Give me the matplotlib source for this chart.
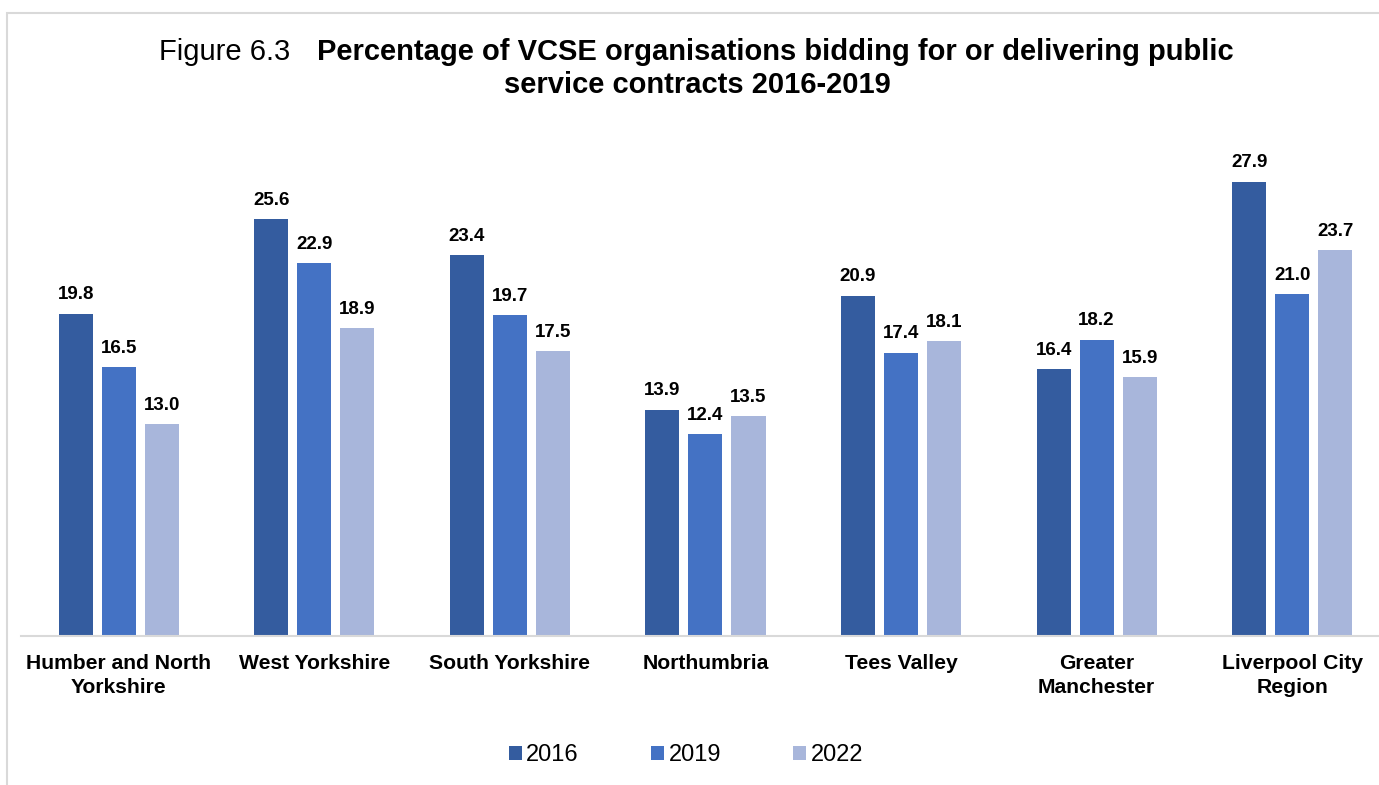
import numpy as np
import matplotlib
matplotlib.use("Agg")
import matplotlib.pyplot as plt
from matplotlib.patches import Rectangle

plt.rcParams['font.family'] = ['Liberation Sans', 'DejaVu Sans']

# Chart data
regions = ['Humber and North\nYorkshire', 'West Yorkshire', 'South Yorkshire',
           'Northumbria', 'Tees Valley', 'Greater\nManchester',
           'Liverpool City\nRegion']
years = ['2016', '2019', '2022']
values_2016 = [19.8, 25.6, 23.4, 13.9, 20.9, 16.4, 27.9]
values_2019 = [16.5, 22.9, 19.7, 12.4, 17.4, 18.2, 21.0]
values_2022 = [13.0, 18.9, 17.5, 13.5, 18.1, 15.9, 23.7]
colors = ['#345C9F', '#4472C4', '#A8B6DB']

W, H = 1379, 785
fig = plt.figure(figsize=(W / 100, H / 100), dpi=100)

# light grey chart border (cropped on right and bottom)
fig.patches.append(Rectangle((7 / W, -0.05), 1.1, 1 - 13 / H + 0.05,
                             transform=fig.transFigure, fill=False,
                             edgecolor='#D9D9D9', linewidth=1.5))

ax = fig.add_axes([21 / W, 149 / H, 1 - 21 / W, 488.4 / H])

x = np.arange(len(regions))
width = 0.174
offset = 0.22
series = [values_2016, values_2019, values_2022]
for i, (vals, yr, col) in enumerate(zip(series, years, colors)):
    bars = ax.bar(x + (i - 1) * offset, vals, width, color=col, label=yr)
    ax.bar_label(bars, labels=[f'{v:.1f}' for v in vals], padding=7.5,
                 fontsize=13.5, fontweight='bold', color='black')

ax.set_xlim(-0.5, 6.444)
ax.set_ylim(0, 30)
ax.set_yticks([])
ax.set_xticks(x)
ax.set_xticklabels(regions, fontsize=15.2, fontweight='bold', linespacing=1.35)
ax.tick_params(axis='x', length=0, pad=13)
for s in ['top', 'left', 'right']:
    ax.spines[s].set_visible(False)
ax.spines['bottom'].set_color('#D9D9D9')
ax.spines['bottom'].set_linewidth(1.5)

# title: regular figure number, bold heading
fig.text(290 / W, 1 - 52 / H, 'Figure 6.3', ha='right', va='center',
         fontsize=21)
fig.text(317 / W, 1 - 52 / H,
         'Percentage of VCSE organisations bidding for or delivering public',
         ha='left', va='center', fontsize=21, fontweight='bold')
fig.text(697 / W, 1 - 85 / H, 'service contracts 2016-2019', ha='center',
         va='center', fontsize=21, fontweight='bold')

handles, labels = ax.get_legend_handles_labels()
fig.legend(handles, labels, loc='center', bbox_to_anchor=(686 / W, 1 - 755 / H),
           ncol=3, frameon=False, fontsize=17, handlelength=0.55,
           handleheight=0.55, handletextpad=0.2, columnspacing=3.05)

fig.savefig('out.png', dpi=100)
